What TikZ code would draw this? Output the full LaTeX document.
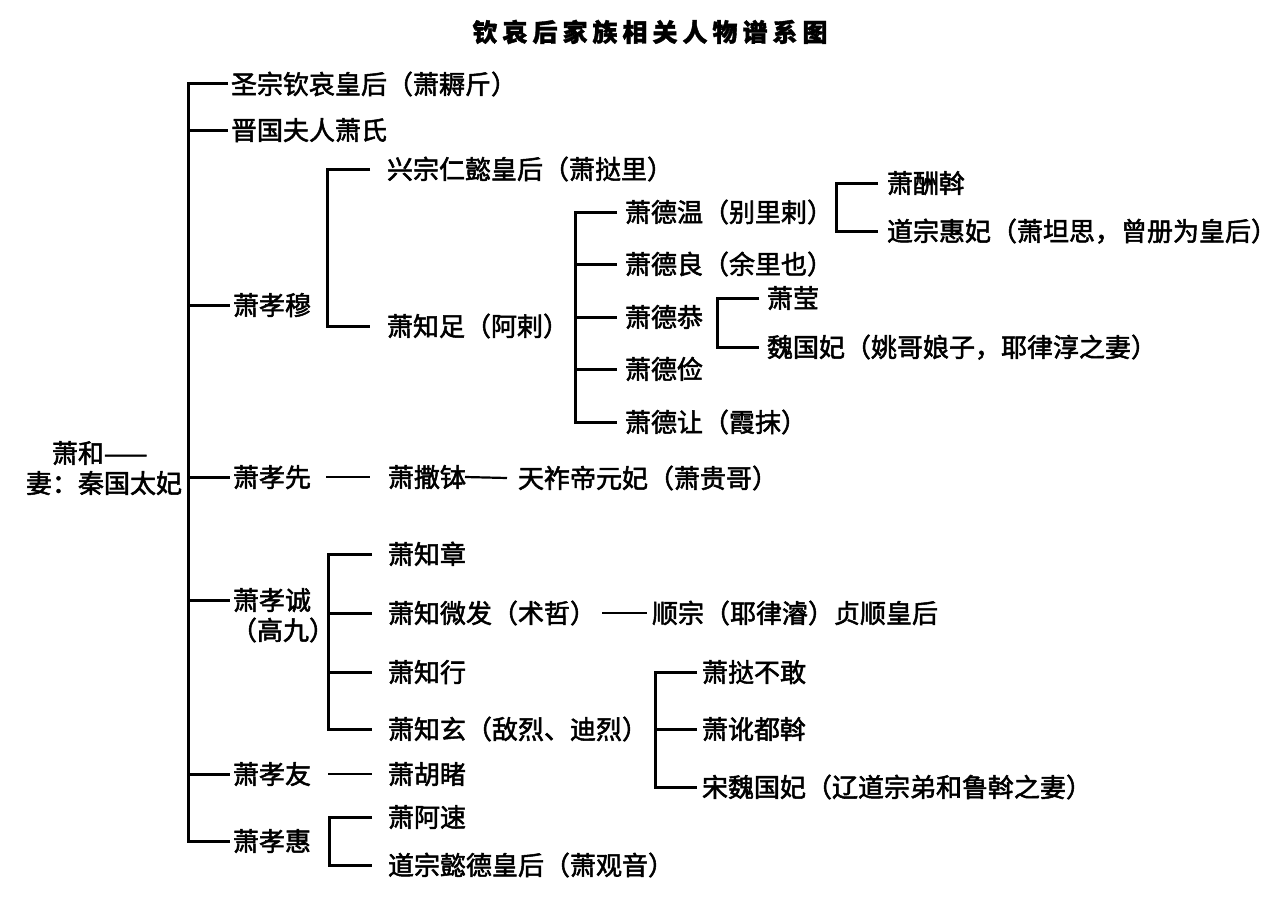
\documentclass[tikz,border=0pt]{standalone}
\usepackage{fontspec}
\setmainfont{Noto Sans CJK SC}[FakeBold=2]
\newfontfamily\titlefont{Noto Sans CJK SC}[LetterSpace=20,BoldFeatures={FakeBold=1.5}]
\begin{document}
\begin{tikzpicture}[x=1pt,y=-1pt,
  lbl/.style={anchor=west,inner sep=0pt,outer sep=0pt,font=\fontsize{26}{28}\selectfont,text height=19.8pt,text depth=0pt},
  ln/.style={line width=3pt,line join=miter},
  dashln/.style={line width=2.2pt}]
\useasboundingbox[fill=white] (0,0) rectangle (1280,907);

\node[font=\titlefont\bfseries\fontsize{25}{27}\selectfont,inner sep=0pt,text height=19pt,text depth=0pt] (title) at (650,32) {钦哀后家族相关人物谱系图};

% root
\node[lbl] (root) at (52,453) {萧和——};
\node[lbl] (wife) at (26,483) {妻：秦国太妃};

% generation 1
\node[lbl] (r1) at (231,84) {圣宗钦哀皇后（萧耨斤）};
\node[lbl] (r2) at (231,130) {晋国夫人萧氏};
\node[lbl] (xm) at (233,305) {萧孝穆};
\node[lbl] (xx) at (233,477) {萧孝先};
\node[lbl] (xc) at (233,600) {萧孝诚};
\node[lbl] (xcb) at (231,630) {（高九）};
\node[lbl] (xy) at (233,774) {萧孝友};
\node[lbl] (xh) at (233,841) {萧孝惠};

% children of 萧孝穆
\node[lbl] (m1) at (387,169) {兴宗仁懿皇后（萧挞里）};
\node[lbl] (m2) at (387,326) {萧知足（阿剌）};
% children of 萧知足
\node[lbl] (d1) at (625,212) {萧德温（别里剌）};
\node[lbl] (d2) at (625,264) {萧德良（余里也）};
\node[lbl] (d3) at (625,317) {萧德恭};
\node[lbl] (d4) at (625,369) {萧德俭};
\node[lbl] (d5) at (625,422) {萧德让（霞抹）};
% children of 萧德温
\node[lbl] (w1) at (887,183) {萧酬斡};
\node[lbl] (w2) at (887,231) {道宗惠妃（萧坦思，曾册为皇后）};
% children of 萧德恭
\node[lbl] (g1) at (767,298) {萧莹};
\node[lbl] (g2) at (767,347) {魏国妃（姚哥娘子，耶律淳之妻）};

% 萧孝先 line
\node[lbl] (s1) at (388,477) {萧撒钵};
\node[lbl] (s2) at (518,478) {天祚帝元妃（萧贵哥）};

% children of 萧孝诚
\node[lbl] (c1) at (388,554) {萧知章};
\node[lbl] (c2) at (388,613) {萧知微发（术哲）};
\node[lbl] (c2w) at (652,613) {顺宗（耶律濬）贞顺皇后};
\node[lbl] (c3) at (388,672) {萧知行};
\node[lbl] (c4) at (388,729) {萧知玄（敌烈、迪烈）};
% children of 萧知玄
\node[lbl] (k1) at (702,672) {萧挞不敢};
\node[lbl] (k2) at (702,729) {萧讹都斡};
\node[lbl] (k3) at (702,787) {宋魏国妃（辽道宗弟和鲁斡之妻）};

% 萧孝友
\node[lbl] (y1) at (388,774) {萧胡睹};
% children of 萧孝惠
\node[lbl] (h1) at (388,817) {萧阿速};
\node[lbl] (h2) at (388,865) {道宗懿德皇后（萧观音）};

% bus coordinates
\coordinate (bus) at (188,0);
\coordinate (bm) at (327,0);
\coordinate (bz) at (575,0);
\coordinate (bw) at (836,0);
\coordinate (bg) at (717,0);
\coordinate (bc) at (328,0);
\coordinate (bk) at (655,0);
\coordinate (bh) at (329,0);

% main bus
\draw[ln] ([xshift=-3pt]r1.west) -- (r1.west -| bus) -- (xh.west -| bus) -- ([xshift=-3pt]xh.west);
\foreach \n in {r2,xm,xx,xc,xy} \draw[ln] (\n.west -| bus) -- ([xshift=-3pt]\n.west);

% 萧孝穆 bracket
\draw[ln] ([xshift=-17pt]m1.west) -- (m1.west -| bm) -- (m2.west -| bm) -- ([xshift=-17pt]m2.west);

% 萧知足 bracket
\draw[ln] ([xshift=-8pt]d1.west) -- (d1.west -| bz) -- (d5.west -| bz) -- ([xshift=-8pt]d5.west);
\foreach \n in {d2,d3,d4} \draw[ln] (\n.west -| bz) -- ([xshift=-8pt]\n.west);

% 萧德温 bracket
\draw[ln] ([xshift=-9pt]w1.west) -- (w1.west -| bw) -- (w2.west -| bw) -- ([xshift=-9pt]w2.west);

% 萧德恭 bracket
\draw[ln] ([xshift=-8pt]g1.west) -- (g1.west -| bg) -- (g2.west -| bg) -- ([xshift=-8pt]g2.west);

% 萧孝先 line
\draw[dashln] ([xshift=15pt]xx.east) -- ([xshift=-18pt]s1.west);
\draw[dashln] ([xshift=-1pt]s1.east) -- ([xshift=-11pt]s2.west);

% 萧孝诚 bracket
\draw[ln] ([xshift=-16pt]c1.west) -- (c1.west -| bc) -- (c4.west -| bc) -- ([xshift=-16pt]c4.west);
\foreach \n in {c2,c3} \draw[ln] (\n.west -| bc) -- ([xshift=-16pt]\n.west);
\draw[dashln] ([xshift=6pt]c2.east) -- ([xshift=-5pt]c2w.west);

% 萧知玄 bracket
\draw[ln] ([xshift=-5pt]k1.west) -- (k1.west -| bk) -- (k3.west -| bk) -- ([xshift=-5pt]k3.west);
\draw[ln] (k2.west -| bk) -- ([xshift=-5pt]k2.west);

% 萧孝友 line
\draw[dashln] ([xshift=17pt]xy.east) -- ([xshift=-16pt]y1.west);

% 萧孝惠 bracket
\draw[ln] ([xshift=-16pt]h1.west) -- (h1.west -| bh) -- (h2.west -| bh) -- ([xshift=-16pt]h2.west);
\end{tikzpicture}
\end{document}
